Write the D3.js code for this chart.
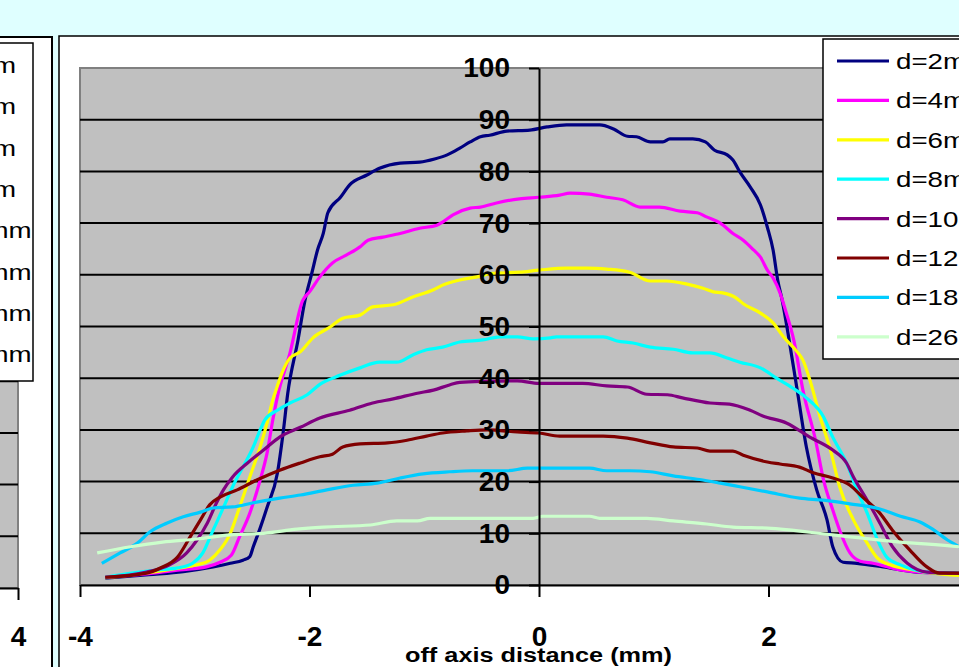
<!DOCTYPE html>
<html>
<head>
<meta charset="utf-8">
<script src="https://cdn.jsdelivr.net/npm/d3@7"></script>
<style>
html, body { margin: 0; padding: 0; background: #dfffff; overflow: hidden; }
svg { display: block; font-family: Arial, "Liberation Sans", sans-serif; }
</style>
</head>
<body>
<svg id="chart" width="959" height="667"></svg>
<script>
// Dose profiles across the beam, one series per depth
const seriesNames = ['d=2mm', 'd=4mm', 'd=6mm', 'd=8mm', 'd=10mm', 'd=12mm', 'd=18mm', 'd=26mm'];
const seriesColors = ['#000080', '#ff00ff', '#ffff00', '#00ffff', '#800080', '#800000', '#00ccff', '#ccffcc'];

const d2mm = [[-3.78,1.3],[-3.4,2.0],[-3.1,2.6],[-2.84,3.5],[-2.69,4.2],[-2.58,4.8],[-2.52,5.5],[-2.49,7.4],[-2.43,11],[-2.37,15],[-2.28,21.6],[-2.23,29.4],[-2.19,37],[-2.10,47.4],[-2.04,55],[-1.98,60.3],[-1.93,64.8],[-1.88,68],[-1.84,72],[-1.73,75],[-1.65,77.4],[-1.50,79.3],[-1.39,80.6],[-1.21,81.6],[-1.04,81.8],[-0.91,82.4],[-0.80,83.2],[-0.69,84.5],[-0.60,85.7],[-0.51,86.7],[-0.43,87],[-0.28,87.8],[-0.08,88],[0.07,88.6],[0.24,89],[0.53,89],[0.65,88.2],[0.77,86.8],[0.85,86.7],[0.97,85.7],[1.08,85.7],[1.14,86.3],[1.34,86.3],[1.45,85.7],[1.53,84.1],[1.64,83.2],[1.69,82.2],[1.75,79.9],[1.84,77],[1.93,73.5],[1.99,69.2],[2.04,64.8],[2.08,59],[2.12,55],[2.17,48.7],[2.25,37.7],[2.33,26.7],[2.42,18.4],[2.51,12.6],[2.56,7.4],[2.65,4.4],[2.77,4.2],[3.0,3.5],[3.29,2.5],[3.61,2.3],[3.8,2.1]];
const d4mm = [[-3.78,1.5],[-3.4,2.2],[-3.13,2.9],[-2.9,3.5],[-2.78,4.4],[-2.68,5.8],[-2.61,9.3],[-2.52,13.9],[-2.43,20.3],[-2.37,25.5],[-2.32,31.9],[-2.28,36.4],[-2.17,44.9],[-2.06,55],[-2.0,56.7],[-1.91,59.6],[-1.80,62.3],[-1.68,63.8],[-1.56,65.4],[-1.49,66.7],[-1.36,67.3],[-1.21,68],[-1.04,69],[-0.89,69.6],[-0.84,70.2],[-0.75,71.6],[-0.60,72.9],[-0.51,73.1],[-0.37,73.9],[-0.17,74.7],[0.0,75],[0.18,75.4],[0.27,75.8],[0.44,75.6],[0.59,75],[0.73,74.5],[0.88,73.1],[1.05,73.1],[1.23,72.3],[1.38,72],[1.46,71.2],[1.58,70],[1.69,68],[1.78,66.7],[1.87,64.8],[1.93,63.4],[1.99,60.9],[2.04,59.4],[2.10,56.5],[2.15,53],[2.22,47.4],[2.30,37.7],[2.41,28],[2.48,20.3],[2.56,14.5],[2.62,10.6],[2.71,6.2],[2.80,4.6],[2.91,4.2],[3.15,2.9],[3.43,2.3],[3.8,2.0]];
const d6mm = [[-3.78,1.4],[-3.4,2.4],[-3.13,3.3],[-2.98,3.9],[-2.87,4.8],[-2.78,6.8],[-2.69,10],[-2.61,15],[-2.52,20.9],[-2.43,26.7],[-2.37,31.3],[-2.32,35.8],[-2.28,38.5],[-2.24,41],[-2.17,43.9],[-2.08,45.1],[-1.97,47.8],[-1.82,49.9],[-1.71,51.6],[-1.56,52.2],[-1.45,53.8],[-1.27,54.2],[-1.10,55.7],[-0.92,57.1],[-0.84,58],[-0.69,59],[-0.54,59.6],[-0.40,60.3],[-0.17,60.5],[0.0,60.9],[0.24,61.3],[0.42,61.3],[0.59,61.1],[0.79,60.5],[0.97,58.8],[1.11,58.8],[1.29,58.2],[1.43,57.4],[1.52,56.7],[1.60,56.5],[1.72,55.5],[1.78,54.4],[1.93,52.6],[2.04,50.7],[2.13,48],[2.25,45.1],[2.30,43.5],[2.36,39.7],[2.45,32.5],[2.54,26.1],[2.62,19],[2.74,12.6],[2.86,8.1],[2.95,5.2],[3.06,3.9],[3.26,2.9],[3.61,1.9],[3.8,1.8]];
const d8mm = [[-3.78,1.5],[-3.55,2.3],[-3.33,2.9],[-3.15,3.3],[-3.02,4.2],[-2.93,6.2],[-2.84,10.6],[-2.75,15],[-2.67,19],[-2.58,22.8],[-2.49,26.7],[-2.43,30],[-2.39,31.9],[-2.28,33.8],[-2.17,35.2],[-2.02,36.8],[-1.91,38.8],[-1.73,40.6],[-1.56,42],[-1.39,43.1],[-1.24,43.1],[-1.10,44.5],[-0.98,45.5],[-0.84,46],[-0.69,47],[-0.49,47.4],[-0.34,48],[-0.19,48],[-0.05,47.6],[0.1,47.8],[0.15,48],[0.56,48],[0.68,47.2],[0.82,46.8],[0.97,46],[1.17,45.6],[1.34,44.9],[1.49,44.9],[1.64,43.9],[1.75,43.1],[1.93,42],[2.07,40],[2.21,38.1],[2.33,36.2],[2.48,32.5],[2.56,28.6],[2.68,23.6],[2.77,18.4],[2.86,13.9],[2.95,8.7],[3.03,5.4],[3.15,3.9],[3.38,2.5],[3.61,2.3],[3.8,2.1]];
const d10mm = [[-3.78,1.5],[-3.42,2.5],[-3.22,3.9],[-3.07,6.2],[-2.98,8.7],[-2.89,12],[-2.81,15.9],[-2.75,18.4],[-2.67,20.9],[-2.54,23.6],[-2.40,26.1],[-2.26,28.6],[-2.08,30.5],[-1.91,32.3],[-1.65,33.8],[-1.45,35.2],[-1.27,36],[-1.06,37.1],[-0.92,37.7],[-0.78,38.7],[-0.69,39.2],[-0.45,39.4],[-0.19,39.5],[0.0,39],[0.38,39],[0.59,38.5],[0.77,38.3],[0.94,36.9],[1.12,36.8],[1.25,36.2],[1.49,35.2],[1.66,35],[1.84,33.8],[1.95,32.7],[2.16,31.3],[2.36,28.6],[2.56,26.1],[2.68,23.6],[2.74,20.9],[2.86,16.4],[2.97,12],[3.08,7.4],[3.21,4.2],[3.38,2.5],[3.61,2.3],[3.8,2.1]];
const d12mm = [[-3.78,1.5],[-3.42,2.3],[-3.30,3.3],[-3.15,5.4],[-3.04,9.3],[-2.95,12.6],[-2.87,15.5],[-2.78,17],[-2.63,18.4],[-2.46,20.3],[-2.26,22.2],[-2.08,23.6],[-1.91,24.8],[-1.80,25.3],[-1.71,26.7],[-1.56,27.3],[-1.32,27.5],[-1.15,28],[-0.98,28.8],[-0.84,29.4],[-0.63,29.8],[-0.45,30],[-0.19,29.6],[0.0,29.4],[0.18,28.8],[0.56,28.8],[0.77,28.4],[0.97,27.5],[1.17,26.7],[1.38,26.5],[1.49,25.9],[1.69,25.9],[1.78,25.1],[1.99,23.8],[2.10,23.4],[2.27,22.8],[2.39,21.7],[2.56,20.7],[2.71,19.3],[2.82,17],[2.97,13.9],[3.08,10.6],[3.23,6.8],[3.38,3.5],[3.49,2.3],[3.8,2.3]];
const d18mm = [[-3.81,4.2],[-3.65,6.2],[-3.50,8.1],[-3.39,10.3],[-3.24,12],[-3.10,13.2],[-2.95,14.1],[-2.84,14.9],[-2.67,15.1],[-2.49,15.9],[-2.26,16.8],[-2.08,17.4],[-1.85,18.4],[-1.62,19.3],[-1.41,19.7],[-1.21,20.7],[-1.01,21.5],[-0.78,21.9],[-0.58,22.1],[-0.28,22.1],[-0.10,22.6],[0.44,22.6],[0.59,22.1],[0.79,22.1],[0.97,21.9],[1.17,21.1],[1.40,20.4],[1.58,19.7],[1.75,19],[1.99,18],[2.27,16.8],[2.48,16.4],[2.71,15.7],[2.97,14.7],[3.15,13.3],[3.32,12.2],[3.43,10.8],[3.56,8.7],[3.66,7.4],[3.8,5.5]];
const d26mm = [[-3.85,6.2],[-3.56,7.4],[-3.28,8.3],[-2.98,8.9],[-2.69,9.7],[-2.40,10],[-2.11,10.8],[-1.88,11.2],[-1.47,11.6],[-1.24,12.4],[-1.06,12.4],[-0.95,12.9],[-0.05,12.9],[0.03,13.3],[0.44,13.3],[0.53,12.9],[0.94,12.9],[1.17,12.4],[1.46,11.8],[1.69,11.2],[1.99,11],[2.56,9.7],[3.15,8.3],[3.66,7.4],[3.8,7.0]];

const seriesValues = [d2mm, d4mm, d6mm, d8mm, d10mm, d12mm, d18mm, d26mm];

const yTicks = d3.range(0, 101, 10);
const xTicks = [-4, -2, 0, 2, 4];
const xTitle = 'off axis distance (mm)';

const svg = d3.select('#chart');

// page background
svg.append('rect').attr('width', 959).attr('height', 667).attr('fill', '#dfffff');

// ---- neighbouring chart, only its right edge is on screen ----
const left = svg.append('g').attr('class', 'left-panel');
const yLeft = d3.scaleLinear().domain([0, 100]).range([588, 71]);
const xLeft = d3.scaleLinear().domain([-4, 4]).range([-900, 18]);

left.append('rect')
    .attr('x', -20).attr('y', 37).attr('width', 72).attr('height', 700)
    .attr('fill', '#fff').attr('stroke', '#000').attr('stroke-width', 2);
left.append('rect')
    .attr('x', -20).attr('y', yLeft(100)).attr('width', xLeft(4) + 20).attr('height', yLeft(0) - yLeft(100))
    .attr('fill', '#c0c0c0').attr('stroke', '#808080').attr('stroke-width', 2);
left.selectAll('line.grid')
    .data(yTicks.filter(d => d > 0 && d < 100))
    .enter().append('line')
    .attr('class', 'grid')
    .attr('x1', -20).attr('x2', xLeft(4))
    .attr('y1', d => yLeft(d)).attr('y2', d => yLeft(d))
    .attr('stroke', '#000').attr('stroke-width', 2);
// only the last tick of that chart falls inside the window
const leftAxis = left.append('g')
    .attr('transform', `translate(0,${yLeft(0)})`)
    .call(d3.axisBottom(xLeft).tickValues(xTicks.filter(d => xLeft(d) >= 0)).tickSize(12).tickPadding(26).tickSizeOuter(0).tickFormat(d => String(d)));
leftAxis.select('.domain').attr('stroke', '#000').attr('stroke-width', 2);
leftAxis.selectAll('.tick line').attr('stroke', '#000').attr('stroke-width', 2);
leftAxis.selectAll('.tick text').attr('fill', '#000').attr('font-size', 28).attr('font-weight', 'bold')
    .attr('font-family', 'Arial, "Liberation Sans", sans-serif');

left.append('rect')
    .attr('x', -200).attr('y', 43).attr('width', 233).attr('height', 338)
    .attr('fill', '#fff').attr('stroke', '#000').attr('stroke-width', 1.5);
left.selectAll('text.leg')
    .data(seriesNames)
    .enter().append('text')
    .attr('class', 'leg')
    .attr('transform', (d, i) => `translate(-77,${73 + i * 41.3}) scale(1.26,1)`)
    .attr('font-size', 22)
    .attr('fill', '#000')
    .text(d => d);

// ---- main chart ----
svg.append('rect')
    .attr('x', 59).attr('y', 36).attr('width', 960).attr('height', 700)
    .attr('fill', '#fff').attr('stroke', '#000').attr('stroke-width', 1.5);

const plot = { left: 80, top: 68, right: 1000, bottom: 585 };
const x = d3.scaleLinear().domain([-4, 4]).range([80, 998]);
const y = d3.scaleLinear().domain([0, 100]).range([plot.bottom, plot.top]);

svg.append('rect')
    .attr('x', plot.left).attr('y', plot.top)
    .attr('width', plot.right - plot.left).attr('height', plot.bottom - plot.top)
    .attr('fill', '#c0c0c0').attr('stroke', '#808080').attr('stroke-width', 2);

svg.append('g').attr('class', 'grid')
    .selectAll('line')
    .data(yTicks.filter(d => d > 0 && d < 100))
    .enter().append('line')
    .attr('x1', plot.left).attr('x2', plot.right)
    .attr('y1', d => y(d)).attr('y2', d => y(d))
    .attr('stroke', '#000').attr('stroke-width', 2);

svg.append('defs').append('clipPath').attr('id', 'plot-clip')
    .append('rect')
    .attr('x', plot.left).attr('y', plot.top)
    .attr('width', plot.right - plot.left).attr('height', plot.bottom - plot.top);

const line = d3.line()
    .x(d => x(d[0]))
    .y(d => y(d[1]))
    .curve(d3.curveMonotoneX);

svg.append('g').attr('clip-path', 'url(#plot-clip)')
    .selectAll('path')
    .data(seriesValues)
    .enter().append('path')
    .attr('d', d => line(d))
    .attr('fill', 'none')
    .attr('stroke', (d, i) => seriesColors[i])
    .attr('stroke-width', 3.2)
    .attr('stroke-linejoin', 'round');

// axes cross at zero
const xAxis = svg.append('g')
    .attr('transform', `translate(0,${y(0)})`)
    .call(d3.axisBottom(x).tickValues(xTicks).tickSize(12).tickPadding(29).tickSizeOuter(0).tickFormat(d => String(d)));
const yAxis = svg.append('g')
    .attr('transform', `translate(${x(0)},0)`)
    .call(d3.axisLeft(y).tickValues(yTicks).tickSize(10).tickPadding(19).tickSizeOuter(0).tickFormat(d => String(d)));

[xAxis, yAxis].forEach(ax => {
    ax.select('.domain').attr('stroke', '#000').attr('stroke-width', 2);
    ax.selectAll('.tick line').attr('stroke', '#000').attr('stroke-width', 2);
    ax.selectAll('.tick text')
        .attr('fill', '#000')
        .attr('font-size', 28)
        .attr('font-weight', 'bold')
        .attr('font-family', 'Arial, "Liberation Sans", sans-serif');
});

svg.append('text')
    .attr('x', 405).attr('y', 662)
    .attr('font-size', 20)
    .attr('font-weight', 'bold')
    .attr('fill', '#000')
    .attr('textLength', 267)
    .attr('lengthAdjust', 'spacingAndGlyphs')
    .text(xTitle);

// legend, cut by the right edge
const legend = svg.append('g').attr('class', 'legend');
legend.append('rect')
    .attr('x', 823).attr('y', 39).attr('width', 200).attr('height', 320)
    .attr('fill', '#fff').attr('stroke', '#000').attr('stroke-width', 1.5);

const item = legend.selectAll('g.item')
    .data(seriesNames)
    .enter().append('g')
    .attr('class', 'item')
    .attr('transform', (d, i) => `translate(837,${61 + i * 39.4})`);
item.append('line')
    .attr('x1', 0).attr('x2', 52)
    .attr('stroke', (d, i) => seriesColors[i])
    .attr('stroke-width', 3.2);
item.append('text')
    .attr('transform', 'translate(59,8) scale(1.26,1)')
    .attr('font-size', 22)
    .attr('fill', '#000')
    .text(d => d);
</script>
</body>
</html>
